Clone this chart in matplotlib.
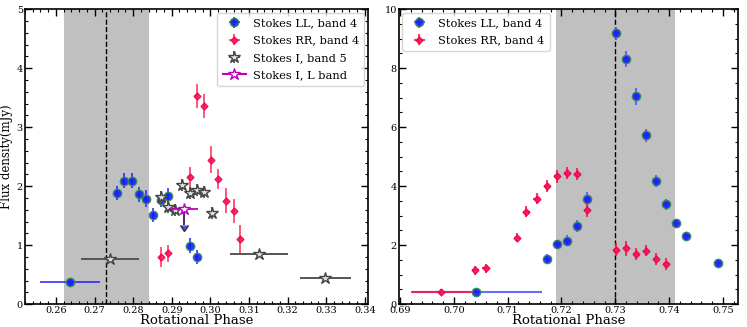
import matplotlib
matplotlib.use("Agg")
import matplotlib.pyplot as plt
from matplotlib.ticker import MultipleLocator

plt.rcParams["font.family"] = "DejaVu Serif"
plt.rcParams["mathtext.fontset"] = "dejavuserif"

# ---- left panel data ----
ll4_phase = [0.2636, 0.2757, 0.2776, 0.2796, 0.2814, 0.2833, 0.2852, 0.2871, 0.2890, 0.2946, 0.2965]
ll4_flux = [0.37, 1.89, 2.09, 2.09, 1.86, 1.79, 1.51, 1.76, 1.84, 0.99, 0.80]
ll4_xerr = [0.0077, 0.0004, 0.0004, 0.0004, 0.0004, 0.0004, 0.0004, 0.0004, 0.0004, 0.0004, 0.0004]
ll4_yerr = [0.06, 0.12, 0.13, 0.13, 0.13, 0.15, 0.12, 0.12, 0.13, 0.13, 0.12]

rr4_phase = [0.2871, 0.2890, 0.2946, 0.2965, 0.2984, 0.3002, 0.3021, 0.3041, 0.3060, 0.3078]
rr4_flux = [0.80, 0.86, 2.15, 3.53, 3.36, 2.45, 2.12, 1.75, 1.58, 1.10]
rr4_yerr = [0.17, 0.14, 0.17, 0.20, 0.21, 0.23, 0.17, 0.21, 0.21, 0.24]

i5_phase = [0.2740, 0.2871, 0.2890, 0.2909, 0.2927, 0.2946, 0.2965, 0.2984, 0.3003, 0.3127, 0.3298]
i5_flux = [0.76, 1.81, 1.65, 1.60, 2.02, 1.89, 1.93, 1.90, 1.55, 0.85, 0.45]
i5_xerr = [0.0075, 0.0004, 0.0004, 0.0004, 0.0004, 0.0004, 0.0004, 0.0004, 0.0004, 0.0075, 0.0065]
i5_yerr = [0.04, 0.10, 0.10, 0.10, 0.10, 0.10, 0.10, 0.10, 0.10, 0.04, 0.03]

il_phase = [0.2931]
il_flux = [1.61]
il_xerr = [0.0038]
il_limit = [0.27]

# ---- right panel data ----
ll4b_phase = [0.7042, 0.7173, 0.7192, 0.7210, 0.7229, 0.7247, 0.7301, 0.7320, 0.7338,
              0.7357, 0.7376, 0.7395, 0.7413, 0.7432, 0.7490]
ll4b_flux = [0.41, 1.54, 2.03, 2.15, 2.65, 3.55, 9.18, 8.32, 7.04, 5.72, 4.18, 3.38, 2.75, 2.32, 1.40]
ll4b_xerr = [0.0121, 0.0006, 0.0006, 0.0006, 0.0006, 0.0006, 0.0006, 0.0006, 0.0006,
             0.0006, 0.0006, 0.0006, 0.0006, 0.0006, 0.0006]
ll4b_yerr = [0.08, 0.15, 0.15, 0.18, 0.2, 0.25, 0.22, 0.27, 0.3, 0.22, 0.2, 0.18, 0.15, 0.13, 0.12]

rr4b_phase = [0.6977, 0.7040, 0.7059, 0.7117, 0.7135, 0.7154, 0.7173, 0.7192, 0.7210,
              0.7229, 0.7247, 0.7301, 0.7320, 0.7338, 0.7357, 0.7376, 0.7395]
rr4b_flux = [0.41, 1.15, 1.21, 2.25, 3.13, 3.58, 4.00, 4.34, 4.45, 4.41, 3.19, 1.85,
             1.89, 1.69, 1.81, 1.54, 1.36]
rr4b_xerr = [0.0055, 0.0006, 0.0006, 0.0006, 0.0006, 0.0006, 0.0006, 0.0006, 0.0006,
             0.0006, 0.0006, 0.0006, 0.0006, 0.0006, 0.0006, 0.0006, 0.0006]
rr4b_yerr = [0.1, 0.15, 0.15, 0.15, 0.18, 0.18, 0.2, 0.22, 0.2, 0.2, 0.22, 0.22, 0.25,
             0.2, 0.18, 0.2, 0.2]

BLUE = "#1a1aff"
RED = "#ff1744"
RED_EDGE = "#e8005a"


def style_axis(ax):
    ax.tick_params(which="both", direction="in", top=True, right=True, labelsize=7, pad=1.5)
    ax.tick_params(which="major", length=5, width=1)
    ax.tick_params(which="minor", length=2.5, width=0.8)
    for sp in ax.spines.values():
        sp.set_linewidth(1.2)
    ax.set_xlabel("Rotational Phase", fontsize=9.5, labelpad=-1)


fig = plt.figure(figsize=(7.47, 3.27), dpi=100)
ax1 = fig.add_axes([0.0335, 0.070, 0.459, 0.902])
ax2 = fig.add_axes([0.534, 0.070, 0.454, 0.902])

legend_kw = dict(fontsize=8.2, frameon=True, borderaxespad=0.3, handlelength=2.0,
                 handletextpad=0.6, labelspacing=0.65, borderpad=0.5)

# left panel
ax1.axvspan(0.262, 0.284, color="#c0c0c0", lw=0, zorder=0)
ax1.axvline(0.273, color="k", ls="--", lw=1, zorder=1)
ax1.errorbar(ll4_phase, ll4_flux, xerr=ll4_xerr, yerr=ll4_yerr, fmt="o", color=BLUE,
             mfc=BLUE, mec="#2e8b57", ms=6, ecolor=BLUE, elinewidth=1.2, alpha=0.9,
             label="Stokes LL, band 4", zorder=3)
ax1.errorbar(rr4_phase, rr4_flux, yerr=rr4_yerr, xerr=0.0004, fmt="D", color=RED,
             mfc=RED, mec=RED_EDGE, ms=3.5, ecolor=RED, elinewidth=1.2, alpha=0.85,
             label="Stokes RR, band 4", zorder=3)
ax1.errorbar(i5_phase, i5_flux, xerr=i5_xerr, yerr=i5_yerr, fmt="*", color="#555555",
             mfc="#e0e0e0", mec="#444444", ms=9, ecolor="#555555", elinewidth=1.4,
             label="Stokes I, band 5", zorder=4)
# upper-limit arrow for the L band point
ax1.errorbar(il_phase, il_flux, yerr=il_limit, uplims=True, fmt="none",
             ecolor="#5a0a5a", elinewidth=1.3, zorder=5)
ax1.errorbar(il_phase, il_flux, xerr=il_xerr, fmt="*-", color="m", mfc="white",
             mec="m", ms=9, ecolor="m", elinewidth=1.3, label="Stokes I, L band", zorder=6)
ax1.set_xlim(0.252, 0.3408)
ax1.set_ylim(0, 5)
ax1.xaxis.set_major_locator(MultipleLocator(0.01))
ax1.xaxis.set_minor_locator(MultipleLocator(0.002))
ax1.yaxis.set_major_locator(MultipleLocator(1))
ax1.yaxis.set_minor_locator(MultipleLocator(0.2))
style_axis(ax1)
ax1.set_ylabel("Flux density(mJy)", fontsize=8.5)
ax1.yaxis.set_label_coords(-0.035, 0.5)
ax1.legend(loc="upper right", **legend_kw)

# right panel
ax2.axvspan(0.719, 0.741, color="#c0c0c0", lw=0, zorder=0)
ax2.axvline(0.730, color="k", ls="--", lw=1, zorder=1)
ax2.errorbar(ll4b_phase, ll4b_flux, xerr=ll4b_xerr, yerr=ll4b_yerr, fmt="o", color=BLUE,
             mfc=BLUE, mec="#2e8b57", ms=6, ecolor="#5a5aff", elinewidth=1.5, alpha=0.9,
             label="Stokes LL, band 4", zorder=3)
ax2.errorbar(rr4b_phase, rr4b_flux, xerr=rr4b_xerr, yerr=rr4b_yerr, fmt="D", color=RED,
             mfc=RED, mec=RED_EDGE, ms=3.5, ecolor=RED, elinewidth=1.5, alpha=0.85,
             label="Stokes RR, band 4", zorder=4)
ax2.set_xlim(0.6898, 0.7528)
ax2.set_ylim(0, 10)
ax2.xaxis.set_major_locator(MultipleLocator(0.01))
ax2.xaxis.set_minor_locator(MultipleLocator(0.002))
ax2.yaxis.set_major_locator(MultipleLocator(2))
ax2.yaxis.set_minor_locator(MultipleLocator(0.5))
style_axis(ax2)
ax2.legend(loc="upper left", **legend_kw)

fig.savefig("out.png", dpi=100)
